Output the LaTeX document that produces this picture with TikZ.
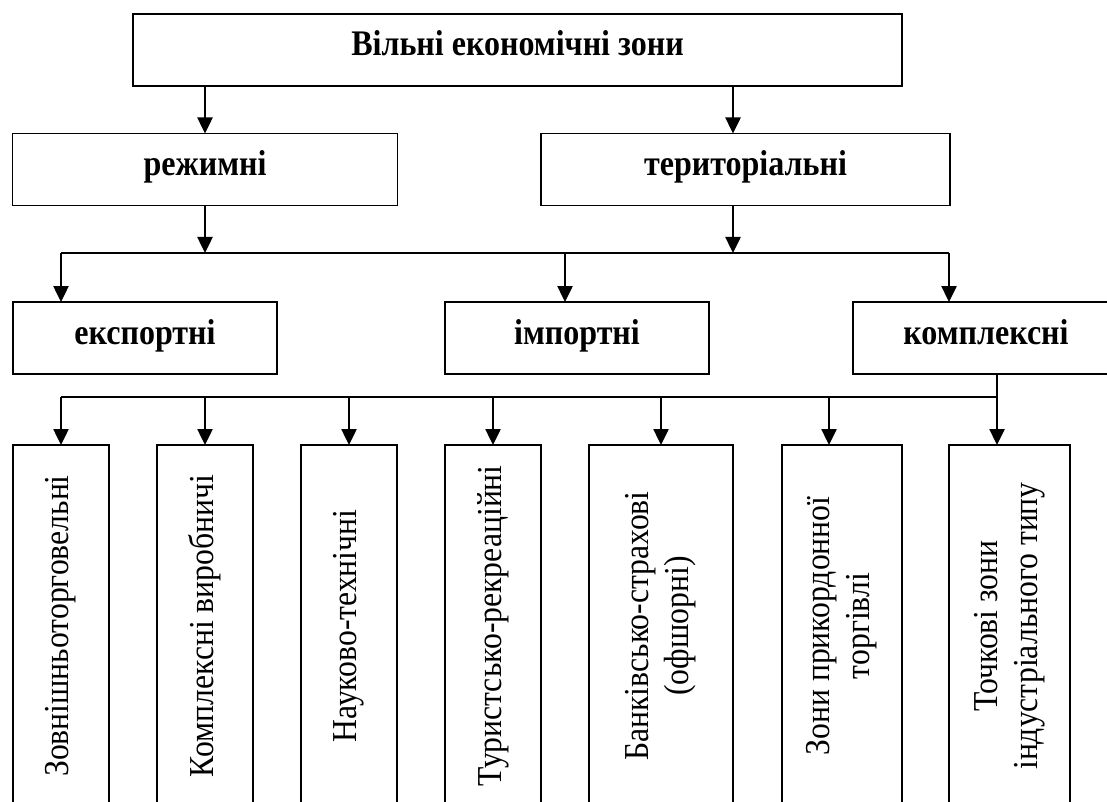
\documentclass[tikz,border=0pt]{standalone}
\usepackage{fontspec}
\setmainfont[FakeStretch=0.905]{Liberation Serif}
\newfontfamily\headfam[FakeStretch=0.89]{Liberation Serif}
\usetikzlibrary{arrows.meta}
\begin{document}
\begin{tikzpicture}[x=1pt,y=-1pt,
  box/.style={draw, line width=1.8pt, inner sep=0pt, outer sep=0pt},
  head/.style={box, font=\fontsize{36}{40}\headfam\bfseries, minimum height=72pt,
    text height=18pt, text depth=6pt},
  tall/.style={box, minimum height=362pt},
  vtext/.style={font=\fontsize{35}{40}\selectfont, rotate=90, align=center, inner sep=0pt},
  arr/.style={line width=2.5pt, -{Triangle[length=16pt,width=15pt]}},
  link/.style={line width=1.6pt},
  thinlink/.style={line width=1.1pt}]

\useasboundingbox (0,0) rectangle (1107,802);
\clip (0,0) rectangle (1107,802);

% top level
\node[head, minimum width=769pt] (top) at (517.5,50) {Вільні економічні зони};

% second level
\node[head, minimum width=385pt] (rezh) at (205,169.5) {режимні};
\node[head, minimum width=409pt] (terr) at (745.5,169.5) {територіальні};

% third level
\node[head, minimum width=264pt] (exp) at (145,338) {експортні};
\node[head, minimum width=264pt] (imp) at (577,338) {імпортні};
\node[head, minimum width=266pt] (kompl) at (986,338) {комплексні};

% bottom level
\node[tall, minimum width=96pt]  (b1) at (61,626) {};
\node[tall, minimum width=96pt]  (b2) at (205,626) {};
\node[tall, minimum width=96pt]  (b3) at (349,626) {};
\node[tall, minimum width=96pt]  (b4) at (493,626) {};
\node[tall, minimum width=144pt] (b5) at (661,626) {};
\node[tall, minimum width=120pt] (b6) at (842,626) {};
\node[tall, minimum width=121pt] (b7) at (1009.5,626) {};

\node[vtext] (t1) at (b1.center) {Зовнішньоторговельні};
\node[vtext] (t2) at (b2.center) {Комплексні виробничі};
\node[vtext] (t3) at (b3.center) {Науково-технічні};
\node[vtext] (t4) at (b4.center) {Туристсько-рекреаційні};
\node[vtext] (t5) at (b5.center) {Банківсько-страхові\\(офшорні)};
\node[vtext] (t6) at (b6.center) {Зони прикордонної\\торгівлі};
\node[vtext] (t7) at (b7.center) {Точкові зони\\індустріального типу};

% connectors: top to second level
\coordinate (tx) at (733,0);
\draw[arr] (rezh.north |- top.south) -- (rezh.north);
\draw[arr] (tx |- top.south) -- (tx |- terr.north);

% first bus
\coordinate (a1) at (61,253);
\coordinate (a2) at (565,253);
\coordinate (a3) at (949,253);
\draw[link] (a1) -- (a3);
\draw[arr] (rezh.south) -- (rezh.south |- a1);
\draw[arr] (tx |- terr.south) -- (tx |- a1);
\draw[arr] (a1) -- (a1 |- exp.north);
\draw[arr] (a2) -- (a2 |- imp.north);
\draw[arr] (a3) -- (a3 |- kompl.north);

% second bus
\coordinate (c1) at (61,397);
\coordinate (c2) at (205,397);
\coordinate (c3) at (349,397);
\coordinate (c4) at (493,397);
\coordinate (c5) at (661,397);
\coordinate (c6) at (829,397);
\coordinate (c7) at (997,397);
\draw[thinlink] (c7 |- kompl.south) -- (c7);
\draw[link] (c1) -- (c7);
\draw[arr] (c1) -- (c1 |- b1.north);
\draw[arr] (c2) -- (c2 |- b2.north);
\draw[arr] (c3) -- (c3 |- b3.north);
\draw[arr] (c4) -- (c4 |- b4.north);
\draw[arr] (c5) -- (c5 |- b5.north);
\draw[arr] (c6) -- (c6 |- b6.north);
\draw[arr] (c7) -- (c7 |- b7.north);
\end{tikzpicture}
\end{document}
